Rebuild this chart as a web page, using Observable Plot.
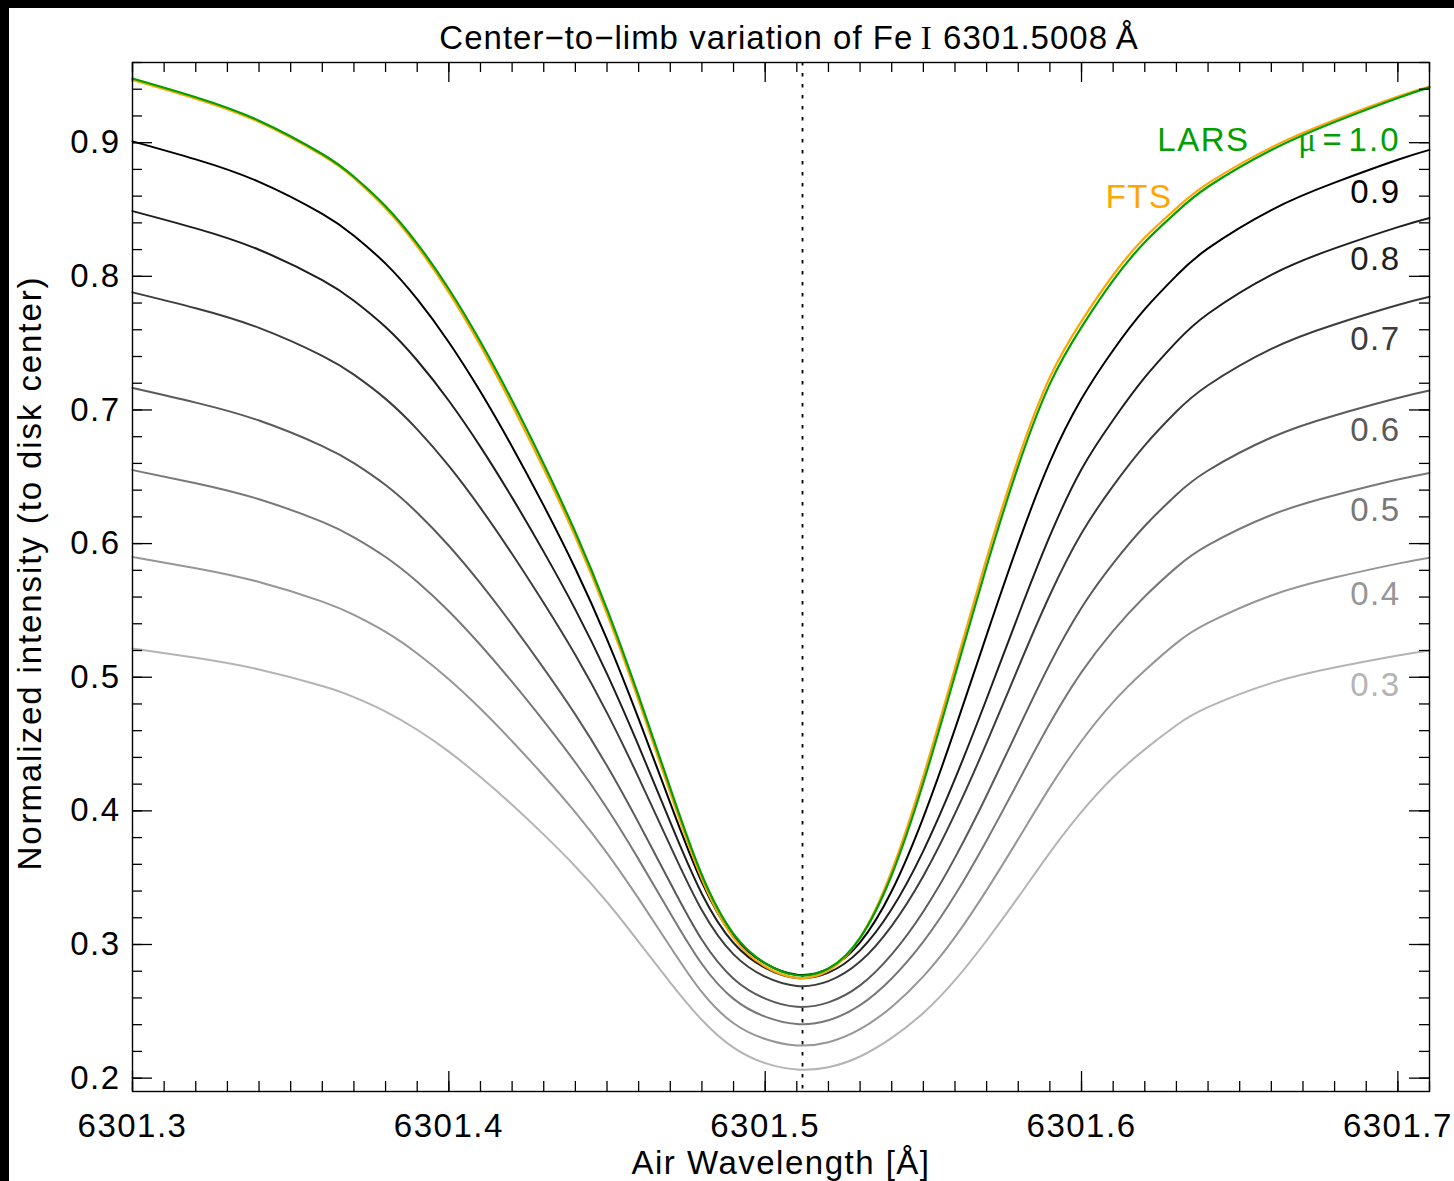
<!DOCTYPE html>
<html>
<head>
<meta charset="utf-8">
<script src="https://cdn.jsdelivr.net/npm/d3@7"></script>
<script src="https://cdn.jsdelivr.net/npm/@observablehq/plot@0.6"></script>
<style>
  html, body { margin: 0; padding: 0; background: #fff; overflow: hidden; }
  #wrap { position: relative; width: 1454px; height: 1181px; background: #fff; }
  .strip { position: absolute; background: #000; }
</style>
</head>
<body>
<div id="wrap"></div>
<script>
// ---------------- data ----------------
const wavelength = [6301.30, 6301.32, 6301.34, 6301.36, 6301.37, 6301.38, 6301.39, 6301.40, 6301.41, 6301.42,
  6301.43, 6301.44, 6301.45, 6301.46, 6301.47, 6301.48, 6301.49, 6301.50, 6301.51, 6301.52,
  6301.53, 6301.54, 6301.55, 6301.56, 6301.57, 6301.58, 6301.59, 6301.60, 6301.61, 6301.62,
  6301.63, 6301.64, 6301.66, 6301.68, 6301.70, 6301.71];

const larsMu10 = [0.948, 0.934, 0.9165, 0.8915, 0.8745, 0.8525, 0.8245, 0.7905, 0.751, 0.707,
  0.6595, 0.6085, 0.551, 0.486, 0.417, 0.352, 0.308, 0.286, 0.277, 0.282,
  0.305, 0.352, 0.421, 0.5015, 0.583, 0.658, 0.7195, 0.762, 0.797, 0.8255,
  0.848, 0.867, 0.8945, 0.9155, 0.9335, 0.9414];
const ftsMu10 = [0.947, 0.933, 0.9155, 0.8905, 0.8735, 0.851, 0.8225, 0.788, 0.748, 0.7035,
  0.656, 0.605, 0.5475, 0.4825, 0.4135, 0.349, 0.305, 0.2835, 0.275, 0.2805,
  0.305, 0.355, 0.426, 0.507, 0.589, 0.6635, 0.7245, 0.7665, 0.801, 0.829,
  0.851, 0.8695, 0.8965, 0.917, 0.9345, 0.942];
const mu09 = [0.901, 0.8875, 0.8707, 0.8467, 0.8304, 0.8095, 0.7829, 0.7507, 0.7136, 0.6725,
  0.6284, 0.5812, 0.5284, 0.4689, 0.4058, 0.3465, 0.3061, 0.2858, 0.2774, 0.2819,
  0.3016, 0.34, 0.3952, 0.4613, 0.5315, 0.6, 0.6611, 0.7083, 0.7447, 0.7754,
  0.8005, 0.8209, 0.8496, 0.8701, 0.8872, 0.8946];
const mu08 = [0.8488, 0.8359, 0.8199, 0.7971, 0.7817, 0.762, 0.737, 0.7069, 0.6724, 0.6344,
  0.5938, 0.5506, 0.5025, 0.4486, 0.3915, 0.3378, 0.3011, 0.2825, 0.2749, 0.2789,
  0.2956, 0.3265, 0.3701, 0.4239, 0.4839, 0.5462, 0.6057, 0.6556, 0.6925, 0.7243,
  0.7509, 0.772, 0.8011, 0.8209, 0.8368, 0.8437];
const mu07 = [0.788, 0.7761, 0.7614, 0.7405, 0.7264, 0.7083, 0.6855, 0.6581, 0.6267, 0.5922,
  0.5555, 0.5166, 0.4733, 0.4249, 0.3738, 0.3256, 0.2926, 0.2759, 0.269, 0.2726,
  0.2872, 0.314, 0.3513, 0.3979, 0.4508, 0.5071, 0.5615, 0.6077, 0.6432, 0.6735,
  0.6988, 0.7185, 0.7457, 0.764, 0.7785, 0.7847];
const mu06 = [0.7164, 0.7055, 0.6921, 0.673, 0.6602, 0.6438, 0.6231, 0.5984, 0.5702, 0.5393,
  0.5066, 0.472, 0.4337, 0.391, 0.346, 0.3035, 0.2744, 0.2595, 0.2534, 0.2567,
  0.2694, 0.2926, 0.3247, 0.365, 0.4115, 0.4613, 0.51, 0.552, 0.5852, 0.6132,
  0.6366, 0.6547, 0.6794, 0.6959, 0.7089, 0.7145];
const mu05 = [0.655, 0.6452, 0.6332, 0.6162, 0.6047, 0.59, 0.5715, 0.5494, 0.5241, 0.4965,
  0.4672, 0.4362, 0.4019, 0.3637, 0.3234, 0.2854, 0.2593, 0.246, 0.2405, 0.2433,
  0.2546, 0.2746, 0.3021, 0.337, 0.3779, 0.4219, 0.4655, 0.5038, 0.5347, 0.5604,
  0.5822, 0.5988, 0.6214, 0.6362, 0.6479, 0.6529];
const mu04 = [0.590, 0.5816, 0.5713, 0.5566, 0.5466, 0.5339, 0.5178, 0.4985, 0.4764, 0.4521,
  0.4263, 0.3989, 0.3684, 0.3343, 0.2983, 0.2643, 0.2411, 0.2293, 0.2245, 0.2269,
  0.2366, 0.2533, 0.2761, 0.3055, 0.3407, 0.3789, 0.4176, 0.4523, 0.4814, 0.505,
  0.5255, 0.5406, 0.5612, 0.5746, 0.585, 0.5894];
const mu03 = [0.5215, 0.5145, 0.5058, 0.4934, 0.4851, 0.4743, 0.4607, 0.4443, 0.4253, 0.4045,
  0.3822, 0.3584, 0.3318, 0.302, 0.2715, 0.2435, 0.2228, 0.2112, 0.2065, 0.2082,
  0.2162, 0.2301, 0.2488, 0.2733, 0.303, 0.3354, 0.3688, 0.3992, 0.4251, 0.446,
  0.4641, 0.4776, 0.4956, 0.5072, 0.5162, 0.520];

const greyCurves = [
  {key: "0.3", values: mu03},
  {key: "0.4", values: mu04},
  {key: "0.5", values: mu05},
  {key: "0.6", values: mu06},
  {key: "0.7", values: mu07},
  {key: "0.8", values: mu08},
  {key: "0.9", values: mu09}
];
const observedCenter = [6301.5118];
const xTickLabels = [6301.3, 6301.4, 6301.5, 6301.6, 6301.7];
const yTickLabels = [0.2, 0.3, 0.4, 0.5, 0.6, 0.7, 0.8, 0.9];
const titleText = "Center\u2212to\u2212limb variation of Fe\u2009I 6301.5008\u2009Å";
const xLabelText = "Air Wavelength [Å]";
const yLabelText = "Normalized intensity (to disk center)";
const muLabelText = "μ\u200A=\u200A1.0";

// ---------------- styles ----------------
const greyColor = {"0.9": "#000000", "0.8": "#1e1e1e", "0.7": "#3c3c3c", "0.6": "#5a5a5a", "0.5": "#787878", "0.4": "#969696", "0.3": "#b4b4b4"};
const labelDy = {"0.9": 43, "0.8": 42, "0.7": 43, "0.6": 40, "0.5": 38, "0.4": 37, "0.3": 35};
const greenColor = "#00a000", orangeColor = "#ffa500";
const W = 1454, H = 1181, ML = 132, MR = 25, MT = 62, MB = 90;
const FW = W - ML - MR, FH = H - MT - MB;
const sansFont = "'Liberation Sans', Arial, Helvetica, sans-serif";
const serifFont = "'Liberation Serif', 'DejaVu Serif', serif";
const lineCurve = "natural";

const rowsOf = (values) => wavelength.map((w, i) => ({w, v: values[i]}));
const lastOf = (key, values) => ({key, w: wavelength[wavelength.length - 1], v: values[values.length - 1]});

const xMinor = d3.range(0, 42).map(i => 6301.30 + i * 0.01);
const yMinor = d3.range(0, 39).map(i => 0.20 + i * 0.02);

const chartMarks = [
  Plot.ruleX(observedCenter, {stroke: "black", strokeWidth: 1.8, strokeDasharray: "3.5,7.5"}),
  ...greyCurves.map(c => Plot.line(rowsOf(c.values), {x: "w", y: "v", stroke: greyColor[c.key], strokeWidth: 2, curve: lineCurve})),
  Plot.line(rowsOf(ftsMu10), {x: "w", y: "v", stroke: orangeColor, strokeWidth: 2.2, curve: lineCurve}),
  Plot.line(rowsOf(larsMu10), {x: "w", y: "v", stroke: greenColor, strokeWidth: 2.2, curve: lineCurve}),
  // ticks on all four sides, pointing inward
  Plot.tickX(xMinor, {insetTop: FH - 10, stroke: "black", strokeWidth: 1.3}),
  Plot.tickX(xMinor, {insetBottom: FH - 10, stroke: "black", strokeWidth: 1.3}),
  Plot.tickX(xTickLabels, {insetTop: FH - 20, stroke: "black", strokeWidth: 1.3}),
  Plot.tickX(xTickLabels, {insetBottom: FH - 20, stroke: "black", strokeWidth: 1.3}),
  Plot.tickY(yMinor, {insetLeft: FW - 10, stroke: "black", strokeWidth: 1.3}),
  Plot.tickY(yMinor, {insetRight: FW - 10, stroke: "black", strokeWidth: 1.3}),
  Plot.tickY(yTickLabels, {insetLeft: FW - 20, stroke: "black", strokeWidth: 1.3}),
  Plot.tickY(yTickLabels, {insetRight: FW - 20, stroke: "black", strokeWidth: 1.3}),
  Plot.frame({stroke: "black", strokeWidth: 1.4}),
  Plot.axisX({ticks: xTickLabels, tickSize: 0, tickPadding: 22, tickFormat: d => d.toFixed(1), label: null, fontSize: 33}),
  Plot.axisY({ticks: yTickLabels, tickSize: 0, tickPadding: 12, tickFormat: d => d.toFixed(1), label: null, fontSize: 33}),
  // curve labels
  ...greyCurves.map(c => Plot.text([lastOf(c.key, c.values)], {x: "w", y: "v", text: "key", dx: -29, dy: labelDy[c.key],
    textAnchor: "end", lineAnchor: "middle", fill: greyColor[c.key], fontSize: 33})),
  Plot.text([lastOf(muLabelText, larsMu10)], {x: "w", y: "v", text: "key", dx: -29, dy: 53, textAnchor: "end", lineAnchor: "middle", fill: greenColor, fontSize: 33}),
  Plot.text([lastOf("LARS", larsMu10)], {x: "w", y: "v", text: "key", dx: -180, dy: 53, textAnchor: "end", lineAnchor: "middle", fill: greenColor, fontSize: 33}),
  Plot.text([lastOf("FTS", ftsMu10)], {x: "w", y: "v", text: "key", dx: -257, dy: 111, textAnchor: "end", lineAnchor: "middle", fill: orangeColor, fontSize: 33}),
  // title and axis labels
  Plot.text([titleText], {text: d => d, frameAnchor: "top", dx: 8, dy: -24, textAnchor: "middle", lineAnchor: "middle", fontSize: 33}),
  Plot.text([xLabelText], {text: d => d, frameAnchor: "bottom", dy: 72, textAnchor: "middle", lineAnchor: "middle", fontSize: 33}),
  Plot.text([yLabelText], {text: d => d, frameAnchor: "left", dx: -102, dy: -4, rotate: -90, textAnchor: "middle", lineAnchor: "middle", fontSize: 33})
];

const chart = Plot.plot({
  width: W, height: H,
  marginLeft: ML, marginRight: MR, marginTop: MT, marginBottom: MB,
  style: {fontFamily: sansFont, fontSize: "33px", letterSpacing: "1.5px", background: "white", color: "black", overflow: "visible"},
  x: {domain: [6301.30, 6301.71], axis: null},
  y: {domain: [0.19, 0.96], axis: null},
  marks: chartMarks
});

// mixed-font labels (serif Greek mu and roman numeral) and per-text spacing
function richText(root, match, parts, spacing) {
  root.querySelectorAll("text").forEach(t => {
    if (t.textContent !== match) return;
    if (spacing) t.style.letterSpacing = spacing;
    if (!parts) return;
    while (t.firstChild) t.removeChild(t.firstChild);
    for (const p of parts) {
      const ts = document.createElementNS("http://www.w3.org/2000/svg", "tspan");
      ts.textContent = p.t;
      if (p.serif) ts.setAttribute("font-family", serifFont);
      t.appendChild(ts);
    }
  });
}
richText(chart, muLabelText, [{t: "μ", serif: true}, {t: "\u200A=\u200A1.0"}], "2px");
richText(chart, titleText, [{t: "Center\u2212to\u2212limb variation of Fe\u2009"}, {t: "I", serif: true}, {t: " 6301.5008\u2009Å"}], "1px");
richText(chart, yLabelText, null, "1.9px");

const wrapEl = document.getElementById("wrap");
wrapEl.appendChild(chart);
const stripLeft = document.createElement("div");
stripLeft.className = "strip"; stripLeft.style.cssText = "left:0;top:0;width:9px;height:1181px;";
const stripTop = document.createElement("div");
stripTop.className = "strip"; stripTop.style.cssText = "left:0;top:0;width:1454px;height:8px;";
wrapEl.appendChild(stripLeft); wrapEl.appendChild(stripTop);
</script>
</body>
</html>
